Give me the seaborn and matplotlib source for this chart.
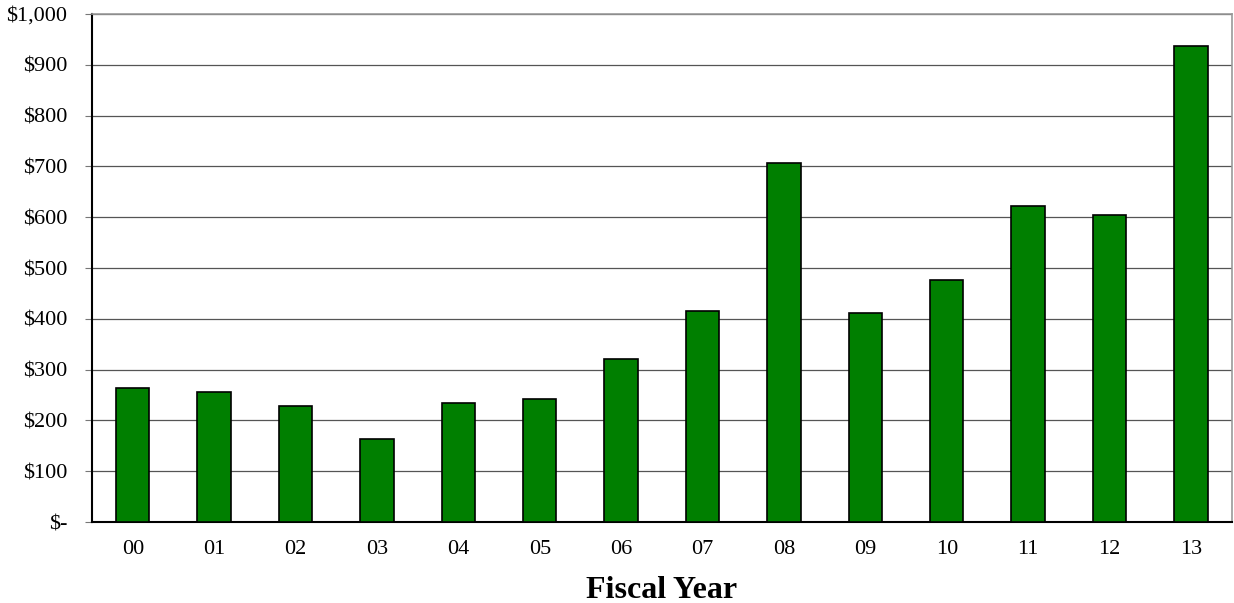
import numpy as np
import pandas as pd
import matplotlib
matplotlib.use("Agg")
import matplotlib.pyplot as plt
import seaborn as sns

years = ["00", "01", "02", "03", "04", "05", "06", "07", "08", "09", "10", "11", "12", "13"]
amounts = [264, 256, 228, 163, 234, 242, 320, 415, 707, 411, 477, 622, 604, 937]
y_ticks = [0, 100, 200, 300, 400, 500, 600, 700, 800, 900, 1000]

df = pd.DataFrame({"year": years, "amount": amounts})

sns.set_style("white")
plt.rcParams["font.family"] = ["Liberation Serif", "DejaVu Serif"]
plt.rcParams["text.color"] = "black"
plt.rcParams["xtick.color"] = "black"
plt.rcParams["ytick.color"] = "black"
plt.rcParams["axes.labelcolor"] = "black"

fig = plt.figure(figsize=(12.34, 6.03), dpi=100)
ax = fig.add_axes([0.0746, 0.1343, 0.9235, 0.8425])

sns.barplot(data=df, x="year", y="amount", color="#007f00", saturation=1,
            width=0.41, edgecolor="black", linewidth=1.2, ax=ax, zorder=3)

ax.set_ylim(0, 1000)
ax.set_xlim(-0.5, len(years) - 0.5)
ax.set_yticks(y_ticks)
ax.set_yticklabels(["$-" if v == 0 else f"${v:,}" for v in y_ticks], fontsize=16)
ax.yaxis.grid(True, color="#555555", linewidth=0.9, zorder=0)
ax.set_axisbelow(True)

ax.set_xticks(range(len(years)))
ax.set_xticklabels(years, fontsize=16)
ax.tick_params(axis="x", which="major", length=0, pad=13)
ax.set_xticks(np.arange(-0.5, len(years)), minor=True)
ax.tick_params(axis="x", which="minor", length=6, color="#777777", direction="out")
ax.tick_params(axis="y", length=5, color="#777777", labelcolor="black",
               direction="out", pad=13, left=True)

ax.set_xlabel("Fiscal Year", fontsize=23, fontweight="bold", labelpad=12)
ax.set_ylabel("")

for side in ["top", "right"]:
    ax.spines[side].set_color("#999999")
    ax.spines[side].set_linewidth(1.2)
for side in ["left", "bottom"]:
    ax.spines[side].set_color("black")
    ax.spines[side].set_linewidth(1.5)

fig.savefig("out.png", dpi=100)
